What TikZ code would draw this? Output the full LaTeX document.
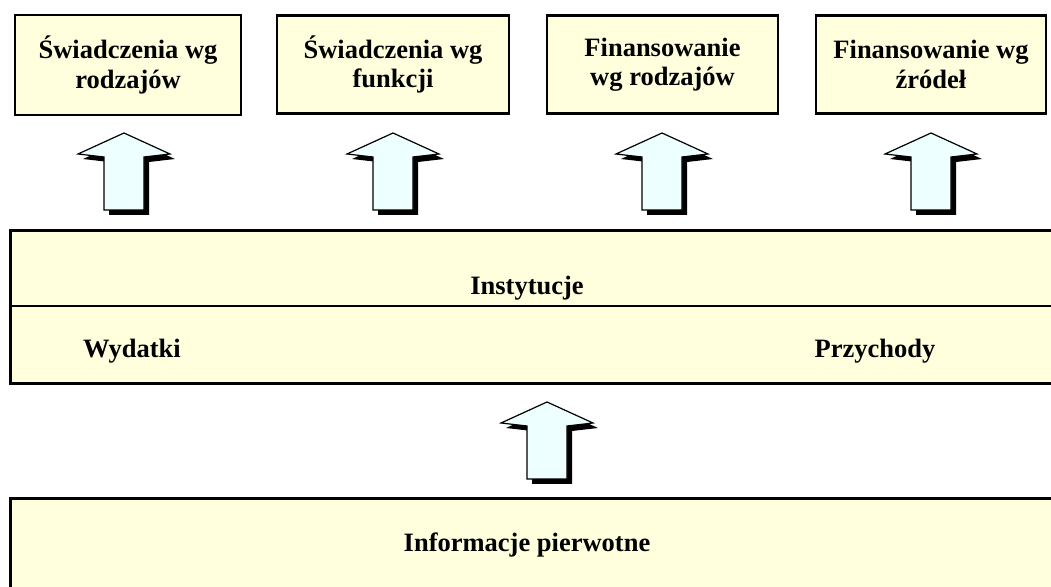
\documentclass[tikz,border=0pt]{standalone}
\usepackage{fontspec}
\setmainfont{Liberation Serif}
\definecolor{zolty}{RGB}{255,255,221}
\definecolor{blekit}{RGB}{238,255,255}
\tikzset{
  ramka/.style={rectangle, draw, line width=1.35pt, fill=zolty, inner sep=0pt, align=center,
    font=\bfseries\fontsize{13.25}{14.75}\selectfont},
  napis/.style={inner sep=0pt, font=\bfseries\fontsize{13.25}{14.75}\selectfont}
}
% block arrow: tip at (#1,#2), shadow down-right
\newcommand{\strzalka}[2]{
\fill[black,shift={(#1+5,#2+5)}] (0,0)--(46,21)--(20,24)--(20,77)--(-20,77)--(-20,24)--(-46,21)--cycle;
\filldraw[fill=blekit,line width=0.6pt,shift={(#1,#2)}] (0,0)--(46,21)--(20,24)--(20,77)--(-20,77)--(-20,24)--(-46,21)--cycle;
}
\begin{document}
\begin{tikzpicture}[x=0.5pt,y=-0.5pt]
\useasboundingbox (0,0) rectangle (1051,587);
% gorny rzad
\node (swrodz) [ramka, minimum width=113pt, minimum height=50pt] at (128,65) {Świadczenia wg\\rodzajów};
\node (swfunk) [ramka, minimum width=116pt, minimum height=49pt] at (393,64.5) {Świadczenia wg\\funkcji};
\node (finrodz) [ramka, minimum width=115.5pt, minimum height=49pt] at (662.5,64.5) {Finansowanie\\wg rodzajów};
\node (finzrod) [ramka, minimum width=115pt, minimum height=49pt] at (931,64.5) {Finansowanie wg\\źródeł};
\strzalka{124}{133}
\strzalka{393}{133}
\strzalka{662}{133}
\strzalka{931}{133}
% instytucje
\node (inst) [ramka, anchor=north west, minimum width=526pt, minimum height=76.5pt] at (9,229) {};
\draw[line width=1pt] (inst.west |- 0,306) -- (inst.east |- 0,306);
\node (instytucje) [napis] at (527,288) {Instytucje};
\node (wydatki) [napis] at (132,351) {Wydatki};
\node (przychody) [napis] at (875,351) {Przychody};
\strzalka{547}{402}
% informacje pierwotne
\node (pierw) [ramka, anchor=north west, minimum width=526pt, minimum height=60pt] at (9,497) {};
\node (informacje) [napis] at (527,545) {Informacje pierwotne};
\end{tikzpicture}
\end{document}
